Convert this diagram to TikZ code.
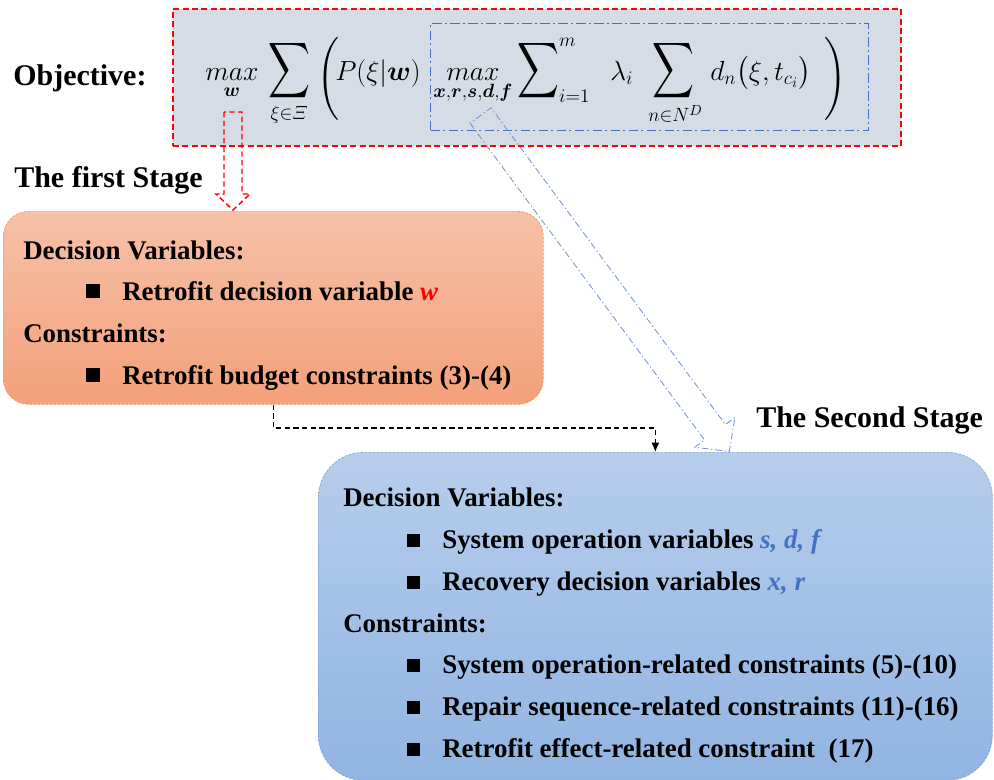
\documentclass[tikz,border=0pt]{standalone}
\usepackage{amsmath,bm,graphicx}
\usepackage{fontspec}
\setmainfont{Liberation Serif}
\usetikzlibrary{calc,arrows.meta}
\definecolor{objfill}{RGB}{214,220,229}
\definecolor{orgtop}{RGB}{246,193,168}
\definecolor{orgbot}{RGB}{244,160,122}
\definecolor{orgline}{RGB}{240,150,110}
\definecolor{bltop}{RGB}{182,206,235}
\definecolor{blbot}{RGB}{145,180,226}
\definecolor{blline}{RGB}{130,165,215}
\definecolor{varblue}{RGB}{68,114,196}
\definecolor{arrblue}{RGB}{105,145,212}
\newcommand{\bigsum}{\mathop{\scalebox{1.05}[1.4]{$\displaystyle\sum$}}}
\begin{document}
\begin{tikzpicture}[x=0.75pt,y=-0.75pt,
  objbox/.style={draw=red, fill=objfill, line width=1.3pt, dash pattern=on 4.5pt off 2.5pt, inner sep=0pt},
  inbox/.style={draw=varblue, line width=0.9pt, dash pattern=on 7pt off 2.5pt on 1.5pt off 2.5pt, inner sep=0pt},
  firstbox/.style={top color=orgtop, bottom color=orgbot, draw=orgline, line width=0.5pt, dash pattern=on 2pt off 1pt, rounded corners=19pt, inner sep=0pt},
  secondbox/.style={top color=bltop, bottom color=blbot, draw=blline, line width=0.5pt, dash pattern=on 2pt off 1pt, rounded corners=34pt, inner sep=0pt},
  title/.style={font=\fontsize{22.5}{27}\selectfont\bfseries, anchor=base west, inner sep=0pt},
  item/.style={font=\fontsize{20.2}{24}\selectfont\bfseries, anchor=base west, inner sep=0pt},
  mth/.style={font=\fontsize{21.5}{26}\selectfont, anchor=base west, inner sep=0pt},
  sqa/.style={fill=black, minimum size=10.5pt, inner sep=0pt},
  sqb/.style={fill=black, minimum size=9.75pt, inner sep=0pt},
  conn/.style={draw=black, line width=1pt, dash pattern=on 4pt off 2.5pt, -{Latex[length=7pt,width=6pt]}},
  redarrow/.style={draw=red, line width=1.1pt, dash pattern=on 4pt off 2.5pt},
  bluearrow/.style={draw=arrblue, line width=0.6pt, dash pattern=on 5pt off 2pt on 1pt off 2pt}
]
\useasboundingbox (0,0) rectangle (994,779);

% objective box
\node[objbox, anchor=north west, minimum width=546pt, minimum height=102.75pt] (obj) at (172,8) {};
\node[inbox, anchor=north west, minimum width=328.5pt, minimum height=80.25pt] (inner) at (430,23) {};
\node[mth] (m1) at (205,80) {$\displaystyle\mathop{max}\limits_{\bm{w}}$};
\node[mth] (s1) at (268,80) {$\displaystyle\bigsum\limits_{\xi\in\varXi}$};
\node[mth] (pl) at (317,86) {$\Biggl($};
\node[mth] (pp) at (335,80) {$P(\xi|\bm{w})$};
\node[mth] (m2) at (433,80) {$\displaystyle\mathop{max}\limits_{\bm{x},\bm{r},\bm{s},\bm{d},\bm{f}}$};
\node[mth] (s2) at (517,80) {$\displaystyle\bigsum\nolimits_{i=1}^{m}$};
\node[mth] (la) at (610,80) {$\lambda_i$};
\node[mth] (s3) at (648,80) {$\displaystyle\bigsum\limits_{n\in N^D}$};
\node[mth] (dn) at (710,80) {$d_n\bigl(\xi,t_{c_i}\bigr)$};
\node[mth] (pr) at (824,86) {$\Biggr)$};

\node[title] (objt) at (13,85) {Objective:};
\node[title] (st1) at (14,187) {The first Stage};
\node[title] (st2) at (756,427) {The Second Stage};

% first stage box
\node[firstbox, anchor=north west, minimum width=405pt, minimum height=144.75pt] (first) at (3,211) {};
\node[item] (f1) at (23,259) {Decision Variables:};
\node[sqa] (fb1) at (93,291) {};
\node[item] (f2) at (122,300) {Retrofit decision variable {\color{red}\itshape w}};
\node[item] (f3) at (23,342) {Constraints:};
\node[sqa] (fb2) at (93,375) {};
\node[item] (f4) at (122,384) {Retrofit budget constraints (3)-(4)};

% second stage box
\node[secondbox, anchor=north west, minimum width=505.5pt, minimum height=246pt] (second) at (318,452) {};
\node[item] (s1t) at (343,506) {Decision Variables:};
\node[sqb] (sb1) at (413,540) {};
\node[item] (s2t) at (442,548) {System operation variables {\color{varblue}\itshape s, d, f}};
\node[sqb] (sb2) at (413,582) {};
\node[item] (s3t) at (442,590) {Recovery decision variables {\color{varblue}\itshape x, r}};
\node[item] (s4t) at (343,632) {Constraints:};
\node[sqb] (sb3) at (413,665) {};
\node[item] (s5t) at (442,673) {System operation-related constraints (5)-(10)};
\node[sqb] (sb4) at (413,707) {};
\node[item] (s6t) at (442,715) {Repair sequence-related constraints (11)-(16)};
\node[sqb] (sb5) at (413,749) {};
\node[item] (s7t) at (442,757) {Retrofit effect-related constraint\ \ (17)};

% connector first -> second
\coordinate (bend) at (655,428);
\draw[conn] (first.south) -- (first.south |- bend) -| (second.north);

% hollow arrows
\draw[redarrow] (224,112) -- (224,194) -- (216,194) -- (233,210) -- (250,194) -- (242,194) -- (242,112) -- cycle;
\draw[bluearrow] (470,123.2) -- (704.5,440) -- (694.8,447.2) -- (729.2,451.6) -- (735,417.4) -- (725.4,424.6) -- (491,107.8) -- cycle;
\end{tikzpicture}
\end{document}
